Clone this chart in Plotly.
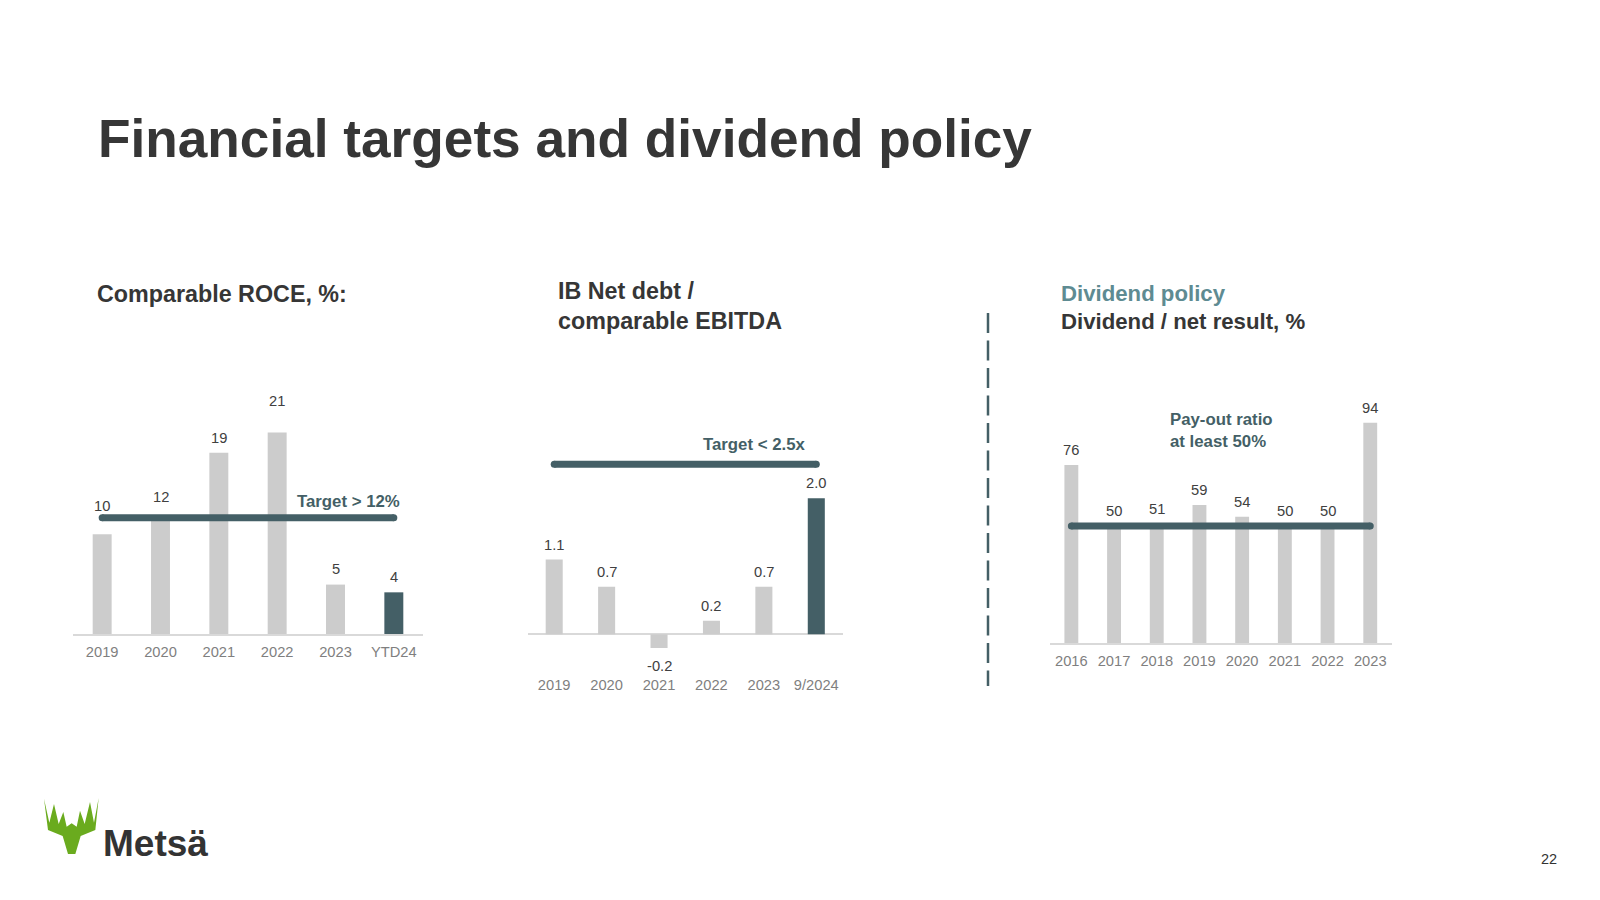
import plotly.graph_objects as go

# ---------------- data ----------------
roce_years = ["2019", "2020", "2021", "2022", "2023", "YTD24"]
roce_values = [10.3, 12.0, 18.7, 20.8, 5.1, 4.3]
roce_target = 12

debt_years = ["2019", "2020", "2021", "2022", "2023", "9/2024"]
debt_values = [1.1, 0.7, -0.2, 0.2, 0.7, 2.0]
debt_target = 2.5

div_years = ["2016", "2017", "2018", "2019", "2020", "2021", "2022", "2023"]
div_values = [76, 50, 51, 59, 54, 50, 50, 94]
div_target = 50

title_text = "Financial targets and dividend policy"
roce_heading = "Comparable ROCE, %:"
debt_heading = "IB Net debt /<br>comparable EBITDA"
div_heading1 = "Dividend policy"
div_heading2 = "Dividend / net result, %"
roce_target_label = "Target > 12%"
debt_target_label = "Target < 2.5x"
div_target_label = "Pay-out ratio<br>at least 50%"
page_number = "22"
brand = "Metsä"

# ---------------- style ----------------
OFF = 8                      # page body margin in the browser
W, H = 1600 - 2 * OFF, 900 - 2 * OFF
FONT = "Liberation Sans, Arial, sans-serif"
GREY = "#CCCCCC"
TEAL = "#445F66"
TEAL_LIGHT = "#5E8B92"
DARK = "#363636"
TICK = "#7F7F7F"
AXIS = "#D9D9D9"
GREEN = "#6AAB1E"


def px(x):
    return (x - OFF) / W


def py(y):
    return 1 - (y - OFF) / H


roce_label_shift = [28, 21, 15, 31, 15.5, 15.5]

fig = go.Figure()


def idx(cats):
    return list(range(len(cats)))


# ---- chart 1: ROCE ----
roce_colors = [GREY] * (len(roce_values) - 1) + [TEAL]
fig.add_trace(go.Bar(x=idx(roce_years), y=roce_values, marker=dict(color=roce_colors, line=dict(width=0)),
                     xaxis="x", yaxis="y", hoverinfo="skip"))
fig.add_trace(go.Scatter(x=[0, len(roce_years) - 1], y=[roce_target, roce_target],
                         mode="lines+markers", line=dict(color=TEAL, width=7),
                         marker=dict(color=TEAL, size=7), xaxis="x", yaxis="y", hoverinfo="skip"))

# ---- chart 2: net debt ----
debt_colors = [GREY] * (len(debt_values) - 1) + [TEAL]
fig.add_trace(go.Bar(x=idx(debt_years), y=debt_values, marker=dict(color=debt_colors, line=dict(width=0)),
                     xaxis="x2", yaxis="y2", hoverinfo="skip"))
fig.add_trace(go.Scatter(x=[0, len(debt_years) - 1], y=[debt_target, debt_target],
                         mode="lines+markers", line=dict(color=TEAL, width=7),
                         marker=dict(color=TEAL, size=7), xaxis="x2", yaxis="y2", hoverinfo="skip"))

# ---- chart 3: dividend ----
fig.add_trace(go.Bar(x=idx(div_years), y=div_values, marker=dict(color=GREY, line=dict(width=0)),
                     xaxis="x3", yaxis="y3", hoverinfo="skip"))
fig.add_trace(go.Scatter(x=[0, len(div_years) - 1], y=[div_target, div_target],
                         mode="lines+markers", line=dict(color=TEAL, width=7),
                         marker=dict(color=TEAL, size=7), xaxis="x3", yaxis="y3", hoverinfo="skip"))

tickfont = dict(family=FONT, size=14.7, color=TICK)


def xax(cats, dom, anchor, line, standoff):
    return dict(domain=dom, anchor=anchor, range=[-0.5, len(cats) - 0.5], tickmode="array",
                tickvals=idx(cats), ticktext=cats, showgrid=False, zeroline=False, ticks="",
                tickfont=tickfont, fixedrange=True, showline=line, linecolor=AXIS, linewidth=1.5,
                ticklabelstandoff=standoff)


ycommon = dict(showgrid=False, showticklabels=False, ticks="", fixedrange=True)

fig.update_layout(
    width=W, height=H,
    margin=dict(l=0, r=0, t=0, b=0),
    paper_bgcolor="white", plot_bgcolor="rgba(0,0,0,0)",
    showlegend=False, bargap=0.675,
    font=dict(family=FONT),
    xaxis=xax(roce_years, [px(73), px(423)], "y", True, 4),
    yaxis=dict(domain=[py(634), py(391.75)], anchor="x", range=[0, 25], zeroline=False, **ycommon),
    xaxis2=xax(debt_years, [px(528), px(842.5)], "y2", False, 6),
    yaxis2=dict(domain=[py(668.7), py(430.3)], anchor="x2", range=[-0.506, 3.0],
                zeroline=True, zerolinecolor=AXIS, zerolinewidth=1.5, **ycommon),
    xaxis3=xax(div_years, [px(1050), px(1391.6)], "y3", True, 3),
    yaxis3=dict(domain=[py(643.3), py(385.35)], anchor="x3", range=[0, 110], zeroline=False, **ycommon),
)

ann = []
labfont = dict(family=FONT, size=14.7, color="#404040")
for i, (v, s) in enumerate(zip(roce_values, roce_label_shift)):
    ann.append(dict(x=i, y=v, xref="x", yref="y", text=f"{v:.0f}", showarrow=False,
                    yanchor="middle", yshift=s, font=labfont))
for i, v in enumerate(debt_values):
    ann.append(dict(x=i, y=v, xref="x2", yref="y2", text=f"{v:.1f}", showarrow=False,
                    yanchor="middle", yshift=15 if v >= 0 else -18, font=labfont))
for i, v in enumerate(div_values):
    ann.append(dict(x=i, y=v, xref="x3", yref="y3", text=f"{v:.0f}", showarrow=False,
                    yanchor="middle", yshift=15, font=labfont))

tfont = dict(family=FONT, size=16.8, color=TEAL)
ann.append(dict(x=px(402), y=py(501), xref="paper", yref="paper", text=f"<b>{roce_target_label}</b>",
                showarrow=False, xanchor="right", yanchor="middle", font=tfont))
ann.append(dict(x=px(807), y=py(444.5), xref="paper", yref="paper", text=f"<b>{debt_target_label}</b>",
                showarrow=False, xanchor="right", yanchor="middle", font=tfont))
ann.append(dict(x=px(1168), y=py(430), xref="paper", yref="paper", text=f"<b>{div_target_label}</b>",
                showarrow=False, xanchor="left", yanchor="middle", align="left", font=tfont))

# headings
hfont = dict(family=FONT, size=23.3, color=DARK)
ann.append(dict(x=px(95), y=py(294), xref="paper", yref="paper", text=f"<b>{roce_heading}</b>",
                showarrow=False, xanchor="left", yanchor="middle", font=hfont))
ann.append(dict(x=px(556), y=py(306), xref="paper", yref="paper", text=f"<b>{debt_heading}</b>",
                showarrow=False, xanchor="left", yanchor="middle", align="left", font=hfont))
ann.append(dict(x=px(1059), y=py(294), xref="paper", yref="paper", text=f"<b>{div_heading1}</b>",
                showarrow=False, xanchor="left", yanchor="middle",
                font=dict(family=FONT, size=22.2, color=TEAL_LIGHT)))
ann.append(dict(x=px(1059), y=py(321), xref="paper", yref="paper", text=f"<b>{div_heading2}</b>",
                showarrow=False, xanchor="left", yanchor="middle",
                font=dict(family=FONT, size=22.2, color=DARK)))

# title
ann.append(dict(x=px(96), y=py(138), xref="paper", yref="paper", text=f"<b>{title_text}</b>",
                showarrow=False, xanchor="left", yanchor="middle",
                font=dict(family=FONT, size=53.2, color="#363636")))

# page number
ann.append(dict(x=px(1549), y=py(859), xref="paper", yref="paper", text=page_number,
                showarrow=False, xanchor="center", yanchor="middle",
                font=dict(family=FONT, size=14.5, color="#333333")))

# brand text
ann.append(dict(x=px(101), y=py(843), xref="paper", yref="paper", text=f"<b>{brand}</b>",
                showarrow=False, xanchor="left", yanchor="middle",
                font=dict(family=FONT, size=37, color="#333333")))

fig.update_layout(annotations=ann)

shapes = []
# dashed vertical separator
shapes.append(dict(type="line", xref="paper", yref="paper", x0=px(988), x1=px(988),
                   y0=py(313), y1=py(686), line=dict(color=TEAL, width=2.5, dash="20px,7.5px")))

# antler logo (zoom coords -> page px)
logo_pts = [(42, 56), (58, 128), (72, 72), (86, 132), (100, 96), (110, 140), (125, 130),
            (140, 140), (150, 92), (164, 132), (180, 66), (192, 128), (206, 54),
            (196, 150), (152, 168), (136, 222), (114, 222), (98, 168), (54, 150)]
path = ""
for i, (zx, zy) in enumerate(logo_pts):
    X = px(30 + zx / 3)
    Y = py(780 + zy / 3)
    path += ("M" if i == 0 else "L") + f"{X:.5f},{Y:.5f} "
path += "Z"
shapes.append(dict(type="path", xref="paper", yref="paper", path=path,
                   fillcolor=GREEN, line=dict(width=0)))
fig.update_layout(shapes=shapes)

fig.write_html("out.html")
